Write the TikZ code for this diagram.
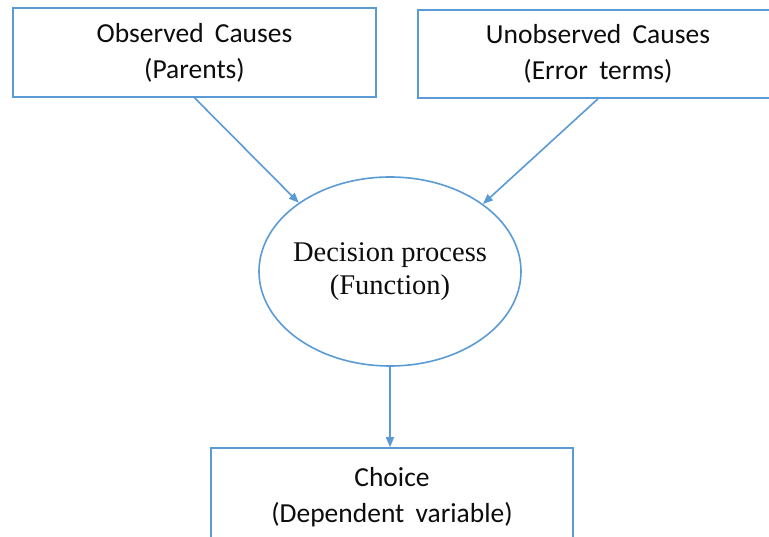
\documentclass[tikz,border=0pt]{standalone}
\usepackage{fontspec}
\setmainfont[WordSpace=1.8]{Carlito}
\newfontfamily\serifface{Liberation Serif}
\usetikzlibrary{shapes.geometric,arrows.meta}
\definecolor{linkblue}{HTML}{5B9BD5}
\definecolor{inktext}{HTML}{0D0D0D}
\begin{document}
\begin{tikzpicture}[x=1pt,y=-1pt,
  causebox/.style={draw=linkblue, line width=1.6pt, rectangle, inner sep=0pt,
    align=center, text=inktext, font=\fontsize{27.5}{36}\selectfont},
  procnode/.style={draw=linkblue, line width=1.6pt, ellipse, inner sep=0pt},
  proclabel/.style={align=center, text=inktext, font=\serifface\fontsize{28.5}{33}\selectfont},
  link/.style={draw=linkblue, line width=1.6pt, -{Triangle[length=10pt,width=8pt]}}]
\useasboundingbox (0,0) rectangle (769,537);
\clip (0,0) rectangle (769,537);
\fill[white] (0,0) rectangle (769,537);

% cause boxes along the top
\node[causebox, minimum width=363pt, minimum height=89pt] (obs) at (194.5,52.5)
  {Observed Causes\\(Parents)};
\node[causebox, minimum width=360pt, minimum height=88pt] (unobs) at (598,54)
  {Unobserved Causes\\(Error terms)};

% decision process in the middle
\node[procnode, minimum width=262pt, minimum height=189pt] (dec) at (390,271.5) {};
\node[proclabel] (declabel) at (dec.center) {Decision process\\(Function)};

% outcome box, running past the lower edge
\node[causebox, minimum width=362pt, minimum height=98pt] (choice) at (392,497)
  {Choice\\(Dependent variable)};

\draw[link] (obs.south) -- (dec.143.5);
\draw[link] (unobs.south) -- (dec.36);
\draw[link] (dec.south) -- (choice.north -| dec.south);
\end{tikzpicture}
\end{document}
